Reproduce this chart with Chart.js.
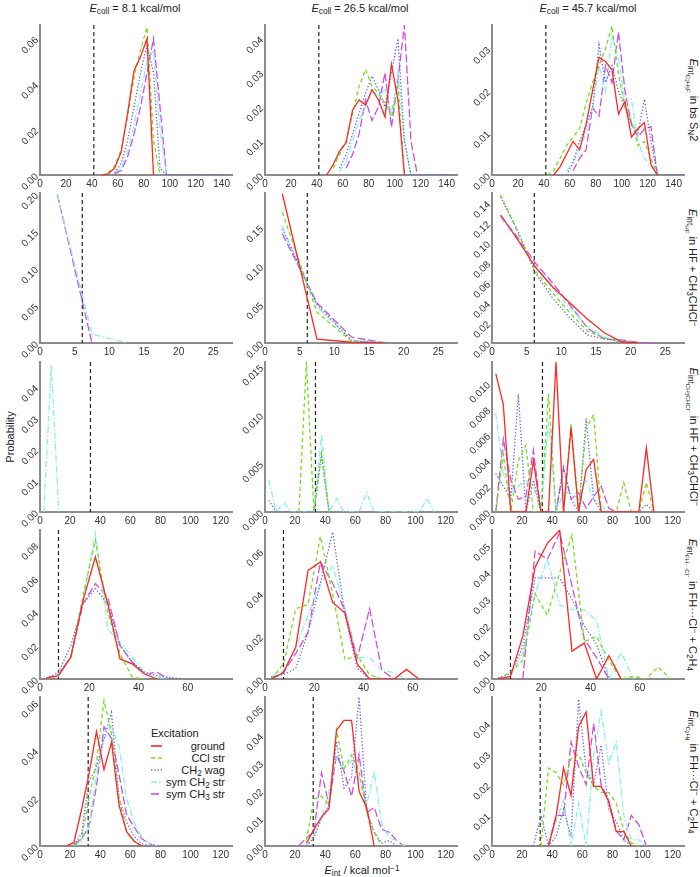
<!DOCTYPE html>
<html>
<head>
<meta charset="utf-8">
<script src="https://cdn.jsdelivr.net/npm/chart.js@4.4.0/dist/chart.umd.min.js"></script>
<style>
  body { margin: 0; background: #fff; font-family: "Liberation Sans", Arial, sans-serif; }
  #page { position: relative; width: 700px; height: 877px; overflow: hidden; }
  .box { position: absolute; }
  .lbl { position: absolute; white-space: nowrap; font-size: 11px; color: #222; }
  .mid { transform: translate(-50%, -50%); }
  .rotR { transform: translate(-50%, -50%) rotate(90deg); }
  .rotL { transform: translate(-50%, -50%) rotate(-90deg); }
  sub { font-size: 75%; vertical-align: -0.3em; line-height: 0; }
  sup { font-size: 75%; vertical-align: 0.4em; line-height: 0; }
  #legend { position: absolute; left: 151px; top: 727px; width: 74px; font-size: 11px; color: #222; }
  #legend .row { display: flex; align-items: center; height: 12px; }
  #legend .row span { flex: 1; text-align: right; white-space: nowrap; }
</style>
</head>
<body>
<div id="page">
  <div class="lbl mid" style="left:135px; top:8px;"><i>E</i><sub>coll</sub> = 8.1 kcal/mol</div>
  <div class="lbl mid" style="left:360px; top:8px;"><i>E</i><sub>coll</sub> = 26.5 kcal/mol</div>
  <div class="lbl mid" style="left:588px; top:8px;"><i>E</i><sub>coll</sub> = 45.7 kcal/mol</div>

  <div class="lbl rotR" style="left:693px; top:100px;"><i>E</i><sub>int<sub>C<sub>2</sub>H<sub>5</sub>F</sub></sub> in bs S<sub>N</sub>2</div>
  <div class="lbl rotR" style="left:693px; top:268px;"><i>E</i><sub>int<sub>HF</sub></sub> in HF + CH<sub>3</sub>CHCl<sup>−</sup></div>
  <div class="lbl rotR" style="left:693px; top:437px;"><i>E</i><sub>int<sub>CH<sub>3</sub>CHCl<sup>−</sup></sub></sub> in HF + CH<sub>3</sub>CHCl<sup>−</sup></div>
  <div class="lbl rotR" style="left:693px; top:605px;"><i>E</i><sub>int<sub>FH···Cl<sup>−</sup></sub></sub> in FH···Cl<sup>−</sup> + C<sub>2</sub>H<sub>4</sub></div>
  <div class="lbl rotR" style="left:693px; top:772px;"><i>E</i><sub>int<sub>C<sub>2</sub>H<sub>4</sub></sub></sub> in FH···Cl<sup>−</sup> + C<sub>2</sub>H<sub>4</sub></div>

  <div class="lbl rotL" style="left:10px; top:437px;">Probability</div>
  <div class="lbl mid" style="left:362px; top:870px;"><i>E</i><sub>int</sub> / kcal mol<sup>−1</sup></div>

  <div id="legend"><div style="height:13px;">Excitation</div></div>
</div>

<script>
// excitation modes (series)
const excitations = ["ground", "CCl str", "CH2 wag", "sym CH2 str", "sym CH3 str"];
const legendHtml = ["ground", "CCl str", "CH<sub>2</sub> wag", "sym CH<sub>2</sub> str", "sym CH<sub>3</sub> str"];

// bin centres (kcal/mol)
const binsR1 = [42.5, 47.5, 52.5, 57.5, 62.5, 67.5, 72.5, 77.5, 82.5, 87.5, 92.5, 97.5, 102.5, 107.5, 112.5, 117.5, 122.5, 127.5, 132.5, 137.5, 142.5, 147.5];
const binsR2 = [2.5, 7.5, 12.5, 17.5, 22.5, 27.5];
const binsR2c3 = [1.25, 3.75, 6.25, 8.75, 11.25, 13.75, 16.25, 18.75, 21.25, 23.75];
const binsR3 = [2.5, 7.5, 12.5, 17.5, 22.5, 27.5, 32.5, 37.5, 42.5, 47.5, 52.5, 57.5, 62.5, 67.5, 72.5, 77.5, 82.5, 87.5, 92.5, 97.5, 102.5, 107.5, 112.5, 117.5, 122.5];
const binsR4 = [2.5, 7.5, 12.5, 17.5, 22.5, 27.5, 32.5, 37.5, 42.5, 47.5, 52.5, 57.5, 62.5, 67.5, 72.5];
const binsR5 = [17.5, 22.5, 27.5, 32.5, 37.5, 42.5, 47.5, 52.5, 57.5, 62.5, 67.5, 72.5, 77.5, 82.5, 87.5, 92.5, 97.5, 102.5, 107.5];

// probabilities per panel: [ground, CCl str, CH2 wag, sym CH2 str, sym CH3 str]
const r1c1 = [
  [null, 0, 0.0005, 0.003, 0.01, 0.027, 0.046, 0.052, 0.06, 0],
  [null, null, 0.001, 0.004, 0.011, 0.026, 0.043, 0.055, 0.065, 0.015, 0],
  [null, null, null, 0.001, 0.005, 0.015, 0.03, 0.045, 0.057, 0.045, 0.003, 0, 0, 0, 0, 0, 0, 0, 0, 0, 0, 0],
  [null, null, null, 0.001, 0.003, 0.01, 0.022, 0.036, 0.05, 0.055, 0.02, 0],
  [null, null, null, 0.0005, 0.002, 0.008, 0.018, 0.03, 0.045, 0.06, 0.03, 0]
];
const r1c2 = [
  [null, 0, 0.003, 0.007, 0.0095, 0.019, 0.022, 0.0205, 0.025, 0.022, 0.017, 0.0325, 0.022, 0],
  [null, null, 0.002, 0.006, 0.01, 0.018, 0.026, 0.031, 0.026, 0.024, 0.021, 0.017, 0.026, 0],
  [null, null, null, 0.002, 0.006, 0.012, 0.018, 0.024, 0.029, 0.025, 0.02, 0.03, 0.04, 0.01, 0, 0, 0, 0, 0, 0, 0, 0],
  [null, null, null, 0.001, 0.004, 0.01, 0.016, 0.02, 0.025, 0.023, 0.025, 0.018, 0.03, 0.01, 0],
  [null, null, null, null, 0.002, 0.006, 0.012, 0.022, 0.016, 0.02, 0.03, 0.014, 0.028, 0.044, 0.01, 0]
];
const r1c3 = [
  [null, 0, 0.002, 0.005, 0.008, 0.006, 0.012, 0.02, 0.028, 0.027, 0.025, 0.0145, 0.0175, 0.009, 0.011, 0.0125, 0.0025, 0],
  [0, 0.001, 0.004, 0.007, 0.009, 0.011, 0.017, 0.022, 0.026, 0.03, 0.0355, 0.024, 0.016, 0.013, 0.007, 0.008, 0.004, 0],
  [null, null, null, 0, 0.003, 0.008, 0.012, 0.016, 0.031, 0.022, 0.026, 0.02, 0.016, 0.012, 0.01, 0.018, 0.008, 0, 0, 0, 0, 0],
  [null, null, null, 0.001, 0.003, 0.006, 0.01, 0.016, 0.026, 0.02, 0.033, 0.028, 0.017, 0.018, 0.008, 0.004, 0.002, 0],
  [null, null, null, null, 0.001, 0.004, 0.006, 0.016, 0.014, 0.026, 0.022, 0.034, 0.02, 0.012, 0.009, 0.011, 0.0115, 0]
];
const r2c1 = [
  [], [], [],
  [0.2, 0.012, 0],
  [0.2, 0]
];
const r2c2 = [
  [0.194, 0.005, 0.001, 0],
  [0.17, 0.04, 0.002, 0],
  [0.148, 0.05, 0.003, 0],
  [0.152, 0.047, 0.004, 0],
  [0.142, 0.052, 0.0075, 0]
];
const r2c3 = [
  [0.128, 0.103, 0.076, 0.056, 0.04, 0.024, 0.01, 0.001, 0],
  [0.148, 0.11, 0.072, 0.05, 0.03, 0.012, 0.005, 0.001, 0],
  [0.146, 0.112, 0.07, 0.045, 0.025, 0.008, 0.004, 0.001, 0],
  [0.125, 0.102, 0.077, 0.055, 0.035, 0.017, 0.006, 0.002, 0],
  [0.127, 0.105, 0.08, 0.06, 0.038, 0.015, 0.004, 0.003, 0.0005, 0]
];
const r3c1 = [
  [], [], [],
  [0, 0.047, 0],
  []
];
const r3c2 = [
  [],
  [null, null, null, null, 0, 0.0155, 0, 0.006, 0],
  [0.0012, 0, 0, 0, 0, 0, 0, 0.006, 0],
  [0.0033, 0, 0.001, 0, 0, 0, 0, 0.008, 0, 0.0014, 0, 0, 0, 0.002, 0, 0, 0, 0, 0, 0, 0, 0.0014, 0],
  []
];
const r3c3 = [
  [0.0108, 0.0084, 0, 0, 0, 0.004, 0, 0, 0.0117, 0, 0.0066, 0, 0.0033, 0.0041, 0, 0, 0, 0, 0, 0, 0.005, 0],
  [0, 0.0045, 0, 0.004, 0.0052, 0, 0, 0.0092, 0, 0, 0.0069, 0, 0.0065, 0.0076, 0, 0, 0, 0.0023, 0, 0, 0.0023, 0],
  [0.003, 0.002, 0.001, 0.0092, 0, 0.0025, 0, 0, 0, 0.0035, 0.001, 0, 0.0073, 0.001, 0, 0, 0, 0, 0, 0, 0.0006, 0],
  [0.0077, 0.003, 0.0015, 0.002, 0.0025, 0.002, 0, 0.007, 0, 0.0015, 0.0015, 0.001, 0.0025, 0.001, 0.0005, 0],
  [0, 0.0057, 0.0025, 0.001, 0.0012, 0.0048, 0, 0, 0, 0.0034, 0.001, 0.0015, 0.0003, 0.0012, 0.002, 0.0003, 0]
];
const r4c1 = [
  [0.0005, 0.002, 0.013, 0.047, 0.073, 0.045, 0.012, 0.009, 0.003, 0],
  [0, 0.002, 0.013, 0.05, 0.083, 0.04, 0.015, 0.001, 0],
  [0.0005, 0.004, 0.02, 0.045, 0.054, 0.045, 0.02, 0.01, 0.004, 0.002, 0.001, 0],
  [0, 0.003, 0.013, 0.048, 0.087, 0.03, 0.022, 0.013, 0.004, 0.001, 0],
  [0, 0.003, 0.013, 0.045, 0.057, 0.049, 0.02, 0.01, 0.003, 0.004, 0]
];
const r4c2 = [
  [0, 0.003, 0.015, 0.051, 0.055, 0.036, 0.031, 0.007, 0, 0, 0, 0.0045, 0],
  [0, 0.007, 0.033, 0.035, 0.067, 0.04, 0.009, 0.011, 0.002, 0],
  [0.001, 0.002, 0.005, 0.022, 0.045, 0.069, 0.03, 0.005, 0],
  [0.001, 0.004, 0.015, 0.03, 0.045, 0.053, 0.033, 0.01, 0.01, 0.004, 0.003, 0],
  [0, 0.003, 0.012, 0.022, 0.055, 0.045, 0.032, 0.01, 0.033, 0.004, 0]
];
const r4c3 = [
  [0, 0.001, 0.016, 0.042, 0.051, 0.056, 0.0105, 0.0135, 0, 0.0088, 0],
  [0, 0.0025, 0.007, 0.032, 0.024, 0.04, 0.054, 0.014, 0.016, 0.007, 0, 0.001, 0, 0.0045, 0],
  [0.0005, 0.002, 0.012, 0.038, 0.038, 0.038, 0.03, 0.02, 0.013, 0],
  [null, 0.001, 0.01, 0.032, 0.045, 0.028, 0.026, 0.026, 0.022, 0, 0.01, 0],
  [null, null, 0, 0.048, 0.045, 0.055, 0.035, 0.015, 0.008, 0]
];
const r5c1 = [
  [0, 0.0015, 0.015, 0.03, 0.048, 0.032, 0.0435, 0.017, 0.006, 0.002, 0],
  [null, 0, 0.003, 0.02, 0.035, 0.061, 0.047, 0.02, 0.006, 0.002, 0],
  [null, 0.0005, 0.005, 0.027, 0.033, 0.045, 0.056, 0.02, 0.01, 0.004, 0.001, 0],
  [null, 0, 0.002, 0.008, 0.03, 0.045, 0.05, 0.042, 0.02, 0.01, 0.004, 0.001, 0],
  [null, 0.0005, 0.003, 0.008, 0.025, 0.05, 0.045, 0.03, 0.013, 0.008, 0.003, 0.001, 0]
];
const r5c2 = [
  [null, null, 0.001, 0.006, 0.0105, 0.0135, 0.042, 0.0455, 0.0455, 0.0197, 0.014, 0],
  [null, null, 0.002, 0.017, 0.018, 0.015, 0.042, 0.028, 0.033, 0.027, 0.012, 0.005, 0],
  [null, null, 0, 0.003, 0.01, 0.015, 0.038, 0.021, 0.025, 0.054, 0.013, 0.005, 0.001, 0.002, 0],
  [null, null, 0, 0.004, 0.01, 0.02, 0.032, 0.028, 0.031, 0.025, 0.015, 0.027, 0.008, 0.003, 0.002, 0],
  [null, 0, 0.003, 0.005, 0.0265, 0.015, 0.033, 0.027, 0.018, 0.033, 0.012, 0.014, 0.006, 0.005, 0.002, 0]
];
const r5c3 = [
  [null, null, null, null, 0, 0.0095, 0.0255, 0.0165, 0.039, 0.0438, 0.0195, 0.0195, 0.0145, 0.0047, 0.0047, 0],
  [null, null, null, 0, 0.0255, 0.024, 0.02, 0.0285, 0.03, 0.024, 0.0195, 0.0175, 0.0175, 0.014, 0.005, 0.001, 0],
  [null, null, 0, 0.01, 0, 0.003, 0.012, 0.003, 0.048, 0.025, 0.02, 0.033, 0.012, 0.008, 0.002, 0],
  [null, null, null, null, 0, 0.008, 0.015, 0, 0.014, 0, 0.03, 0.044, 0.027, 0.034, 0.01, 0.002, 0.002, 0],
  [null, null, null, null, 0, 0.01, 0.01, 0.034, 0.026, 0.02, 0.04, 0.02, 0.015, 0.005, 0.002, 0.01, 0.007, 0]
];

// x tick labels per row
const xTicksR1 = [0, 20, 40, 60, 80, 100, 120, 140];
const xTicksR2 = [0, 5, 10, 15, 20, 25];
const xTicksR3 = [0, 20, 40, 60, 80, 100, 120];
const xTicksR4 = [0, 20, 40, 60];
const xTicksR5 = [0, 20, 40, 60, 80, 100, 120];

// y tick labels per panel
const yTicksR1 = [[0, 0.02, 0.04, 0.06], [0, 0.01, 0.02, 0.03, 0.04], [0, 0.01, 0.02, 0.03]];
const yTicksR2 = [[0, 0.05, 0.1, 0.15, 0.2], [0, 0.05, 0.1, 0.15], [0, 0.02, 0.04, 0.06, 0.08, 0.1, 0.12, 0.14]];
const yTicksR3 = [[0, 0.01, 0.02, 0.03, 0.04], [0, 0.005, 0.01, 0.015], [0, 0.002, 0.004, 0.006, 0.008, 0.01]];
const yTicksR4 = [[0, 0.02, 0.04, 0.06, 0.08], [0, 0.02, 0.04, 0.06], [0, 0.01, 0.02, 0.03, 0.04, 0.05]];
const yTicksR5 = [[0, 0.02, 0.04, 0.06], [0, 0.01, 0.02, 0.03, 0.04, 0.05], [0, 0.01, 0.02, 0.03, 0.04]];

// axis ranges and dashed reference energies
const xMaxByRow = [148, 27.7, 127.5, 78, 127.5];
const cutByRow = [41.5, 6.1, 33.5, 7.5, 32];
const yMaxR1 = [0.066, 0.044, 0.0357];
const yMaxR2 = [0.202, 0.195, 0.15];
const yMaxR3 = [0.048, 0.0155, 0.0117];
const yMaxR4 = [0.089, 0.07, 0.056];
const yMaxR5 = [0.0625, 0.054, 0.0487];

const lineColors = ["#ff2626", "#74e01c", "#6262ea", "#88eeee", "#cc50e0"];
const lineDashes = [[], [4, 3], [1.3, 2], [6, 2, 1.3, 2], [8, 3]];
const FONT = "'Liberation Sans', Arial, sans-serif";

const colLeft = [39.5, 264.7, 492];
const rowTop = [25, 193, 362, 530, 697];
const plotW = 192;
const plotH = [150, 150, 150, 149, 149];
const padT = 10, padR = 6, axW = 36, axH = 18;

const rows = [
  { bins: [binsR1, binsR1, binsR1], series: [r1c1, r1c2, r1c3], xt: xTicksR1, yt: yTicksR1, ym: yMaxR1 },
  { bins: [binsR2, binsR2, binsR2c3], series: [r2c1, r2c2, r2c3], xt: xTicksR2, yt: yTicksR2, ym: yMaxR2 },
  { bins: [binsR3, binsR3, binsR3], series: [r3c1, r3c2, r3c3], xt: xTicksR3, yt: yTicksR3, ym: yMaxR3 },
  { bins: [binsR4, binsR4, binsR4], series: [r4c1, r4c2, r4c3], xt: xTicksR4, yt: yTicksR4, ym: yMaxR4 },
  { bins: [binsR5, binsR5, binsR5], series: [r5c1, r5c2, r5c3], xt: xTicksR5, yt: yTicksR5, ym: yMaxR5 }
];

const cutLine = {
  id: "cutLine",
  beforeDatasetsDraw(chart, args, opts) {
    const { ctx, chartArea, scales } = chart;
    const xp = scales.x.getPixelForValue(opts.value);
    ctx.save();
    ctx.strokeStyle = "#222";
    ctx.lineWidth = 1.2;
    ctx.setLineDash([4, 3]);
    ctx.beginPath();
    ctx.moveTo(xp, chartArea.top);
    ctx.lineTo(xp, chartArea.bottom);
    ctx.stroke();
    ctx.restore();
  }
};

const page = document.getElementById("page");

function makePanel(r, c) {
  const row = rows[r];
  const bins = row.bins[c];
  const yTicks = row.yt[c];
  const dec = (r === 2 && c > 0) ? 3 : 2;

  const wrap = document.createElement("div");
  wrap.className = "box";
  wrap.style.left = (colLeft[c] - axW) + "px";
  wrap.style.top = (rowTop[r] - padT) + "px";
  wrap.style.width = (axW + plotW + padR) + "px";
  wrap.style.height = (padT + plotH[r] + axH) + "px";
  const cv = document.createElement("canvas");
  wrap.appendChild(cv);
  page.appendChild(wrap);

  const datasets = row.series[c].map((vals, i) => ({
    label: excitations[i],
    data: vals.map((v, k) => ({ x: bins[k], y: v })).filter(d => d.y !== null),
    borderColor: lineColors[i],
    borderDash: lineDashes[i],
    borderWidth: 1.3,
    pointRadius: 0,
    fill: false,
    tension: 0
  }));

  new Chart(cv, {
    type: "line",
    data: { datasets },
    plugins: [cutLine],
    options: {
      responsive: true,
      maintainAspectRatio: false,
      animation: false,
      layout: { padding: { top: padT, right: padR, left: 0, bottom: 0 } },
      plugins: {
        legend: { display: false },
        tooltip: { enabled: false },
        cutLine: { value: cutByRow[r] }
      },
      scales: {
        x: {
          type: "linear",
          min: 0,
          max: xMaxByRow[r],
          afterBuildTicks: (s) => { s.ticks = row.xt.map(v => ({ value: v })); },
          afterFit: (s) => { s.height = axH; },
          grid: { display: false, drawTicks: false },
          border: { display: true, color: "#8c8c8c", width: 2 },
          ticks: {
            autoSkip: false, maxRotation: 0, padding: 3, color: "#333",
            font: { size: 10, family: FONT },
            callback: (v) => String(v)
          }
        },
        y: {
          type: "linear",
          min: 0,
          max: row.ym[c],
          afterBuildTicks: (s) => { s.ticks = yTicks.map(v => ({ value: v })); },
          afterFit: (s) => { s.width = axW; },
          grid: { display: false, drawTicks: false },
          border: { display: true, color: "#8c8c8c", width: 2 },
          ticks: {
            autoSkip: false, minRotation: 45, maxRotation: 45, padding: 3, color: "#333",
            font: { size: 10, family: FONT },
            callback: (v) => Number(v).toFixed(dec)
          }
        }
      }
    }
  });
}

for (let r = 0; r < 5; r++) {
  for (let c = 0; c < 3; c++) makePanel(r, c);
}

// legend inside the bottom-left panel
const legend = document.getElementById("legend");
excitations.forEach((name, i) => {
  const rowEl = document.createElement("div");
  rowEl.className = "row";
  const dash = lineDashes[i].join(" ");
  rowEl.innerHTML =
    '<svg width="12" height="12"><line x1="0" y1="6" x2="11" y2="6" stroke="' + lineColors[i] +
    '" stroke-width="1.6" stroke-dasharray="' + dash + '"/></svg><span>' + legendHtml[i] + "</span>";
  legend.appendChild(rowEl);
});
</script>
</body>
</html>
